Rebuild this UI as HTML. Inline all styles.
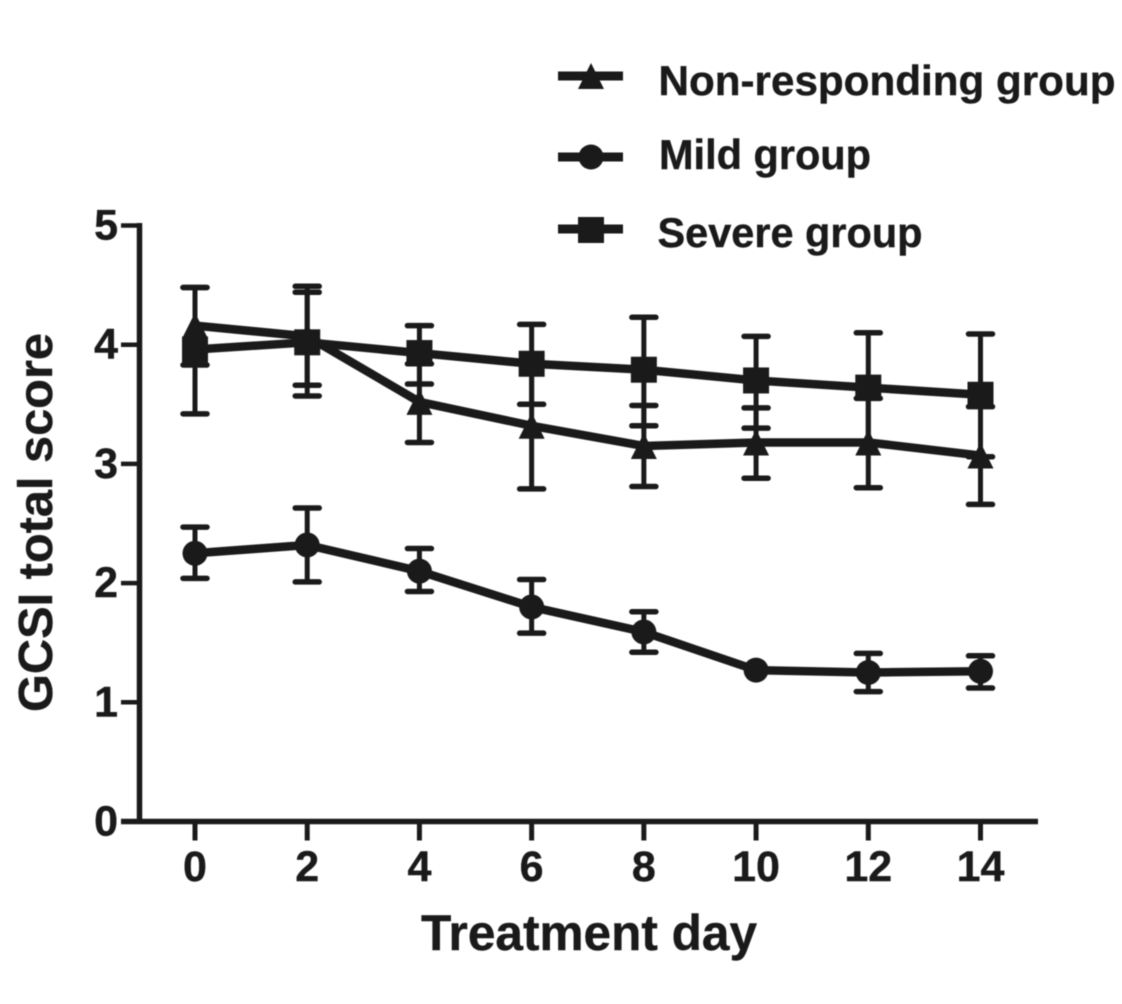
<!DOCTYPE html>
<html lang="en">
<head>
<meta charset="utf-8">
<title>GCSI total score by treatment day</title>
<style>
html,body{margin:0;padding:0;background:#fff;width:1122px;height:1004px;overflow:hidden}
svg{display:block}
text{font-family:"Liberation Sans",Arial,sans-serif;font-weight:700;fill:#1a1a1a;stroke:#1a1a1a;stroke-width:0.4px}
</style>
</head>
<body>
<svg id="chart" xmlns="http://www.w3.org/2000/svg" width="1122" height="1004" viewBox="0 0 1122 1004" style="filter:blur(0.6px)">
  <rect x="-5" y="-5" width="1132" height="1014" fill="#ffffff"/>
  <g id="plot"></g>
  <text transform="translate(52,712) rotate(-90)" font-size="48" textLength="379" lengthAdjust="spacingAndGlyphs">GCSI total score</text>
  <text x="421" y="950" font-size="50" textLength="336" lengthAdjust="spacingAndGlyphs">Treatment day</text>
  <g>
    <g>
      <text x="658.5" y="95" font-size="42" textLength="457" lengthAdjust="spacingAndGlyphs">Non-responding group</text>
    </g>
    <g>
      <text x="659" y="169" font-size="42" textLength="212" lengthAdjust="spacingAndGlyphs">Mild group</text>
    </g>
    <g>
      <text x="657.5" y="247" font-size="42" textLength="265" lengthAdjust="spacingAndGlyphs">Severe group</text>
    </g>
  </g>
</svg>
<script>
var days = [0, 2, 4, 6, 8, 10, 12, 14];
var yTicks = [0, 1, 2, 3, 4, 5];

var nonResponding = [4.16, 4.07, 3.52, 3.32, 3.15, 3.18, 3.18, 3.07];
var nonRespondingUpper = [4.48, 4.44, 3.84, 3.84, 3.49, 3.47, 3.55, 3.48];
var nonRespondingLower = [3.83, 3.66, 3.18, 2.79, 2.81, 2.88, 2.80, 2.66];

var mild = [2.25, 2.32, 2.10, 1.80, 1.59, 1.27, 1.25, 1.26];
var mildUpper = [2.47, 2.63, 2.29, 2.03, 1.76, 1.27, 1.41, 1.39];
var mildLower = [2.04, 2.01, 1.93, 1.58, 1.42, 1.27, 1.09, 1.12];

var severe = [3.96, 4.02, 3.93, 3.84, 3.79, 3.70, 3.64, 3.58];
var severeUpper = [4.48, 4.49, 4.16, 4.17, 4.23, 4.07, 4.10, 4.09];
var severeLower = [3.42, 3.57, 3.67, 3.50, 3.32, 3.30, 3.17, 3.06];

var INK = '#1a1a1a';
var NS = 'http://www.w3.org/2000/svg';
var plot = document.getElementById('plot');
var svg = document.getElementById('chart');

function xScale(d) { return 195 + d * (980.5 - 195) / 14; }
function yScale(v) { return 821.5 - v * (821.5 - 225.5) / 5; }

function make(tag, attrs, parent) {
  var el = document.createElementNS(NS, tag);
  for (var k in attrs) el.setAttribute(k, attrs[k]);
  (parent || plot).appendChild(el);
  return el;
}
function seg(x1, y1, x2, y2, w, parent) {
  return make('line', {x1: x1, y1: y1, x2: x2, y2: y2, stroke: INK, 'stroke-width': w}, parent);
}
function triangle(cx, cy, parent) {
  return make('polygon', {
    points: cx + ',' + (cy - 13) + ' ' + (cx + 13) + ',' + (cy + 13) + ' ' + (cx - 13) + ',' + (cy + 13),
    fill: INK
  }, parent);
}
function circle(cx, cy, parent) {
  return make('circle', {cx: cx, cy: cy, r: 12.5, fill: INK}, parent);
}
function square(cx, cy, parent) {
  return make('rect', {x: cx - 13, y: cy - 13, width: 26, height: 26, fill: INK}, parent);
}

var axes = make('g', {});



var yAxisLine = seg(139.5, yScale(5) - 2.5, 139.5, yScale(0) + 2.5, 5.5, axes);


var xAxisLine = seg(121, yScale(0), 1038, yScale(0), 5.5, axes);



yTicks.forEach(function (t) {
  var tick = seg(121, yScale(t), 140, yScale(t), 4.5, axes);
  
  
  var label = document.createElementNS(NS, 'text');
  
  
  label.setAttribute('x', 118);
  label.setAttribute('y', yScale(t) + 14);
  label.setAttribute('font-size', '43');
  label.setAttribute('text-anchor', 'end');
  label.textContent = String(t);
  svg.appendChild(label);
});
days.forEach(function (d) {
  var tick = seg(xScale(d), yScale(0), xScale(d), 840.5, 5, axes);
  
  
  var label = document.createElementNS(NS, 'text');
  
  
  label.setAttribute('x', xScale(d));
  label.setAttribute('y', 881);
  label.setAttribute('font-size', '43');
  label.setAttribute('text-anchor', 'middle');
  label.textContent = String(d);
  svg.appendChild(label);
});

function drawSeries(name, values, upper, lower, marker) {
  var g = make('g', {});
  
  
  values.forEach(function (v, i) {
    var x = xScale(days[i]);
    if (upper[i] !== lower[i]) {
      var stem = seg(x, yScale(upper[i]), x, yScale(lower[i]), 5, g);
      
      
      var capTop = seg(x - 12, yScale(upper[i]), x + 12, yScale(upper[i]), 5.5, g);
      capTop.setAttribute('stroke-linecap', 'round');
      
      
      var capBottom = seg(x - 12, yScale(lower[i]), x + 12, yScale(lower[i]), 5.5, g);
      capBottom.setAttribute('stroke-linecap', 'round');
      
      
    }
  });
  var line = make('polyline', {
    points: values.map(function (v, i) { return xScale(days[i]) + ',' + yScale(v); }).join(' '),
    fill: 'none', stroke: INK, 'stroke-width': 8.5, 'stroke-linejoin': 'round'
  }, g);
  
  
  values.forEach(function (v, i) {
    var m = marker(xScale(days[i]), yScale(v), g);
    
    
  });
}
drawSeries('non-responding', nonResponding, nonRespondingUpper, nonRespondingLower, triangle);
drawSeries('mild', mild, mildUpper, mildLower, circle);
drawSeries('severe', severe, severeUpper, severeLower, square);

var legendGlyphs = make('g', {});



var glyph1 = seg(558, 76, 623, 76, 9, legendGlyphs);


var mark1 = triangle(591, 76, legendGlyphs);



var glyph2 = seg(558, 157, 623, 157, 9, legendGlyphs);


var mark2 = circle(591, 157, legendGlyphs);



var glyph3 = seg(558, 229, 623, 229, 9, legendGlyphs);


var mark3 = square(591, 230, legendGlyphs);


</script>
</body>
</html>
